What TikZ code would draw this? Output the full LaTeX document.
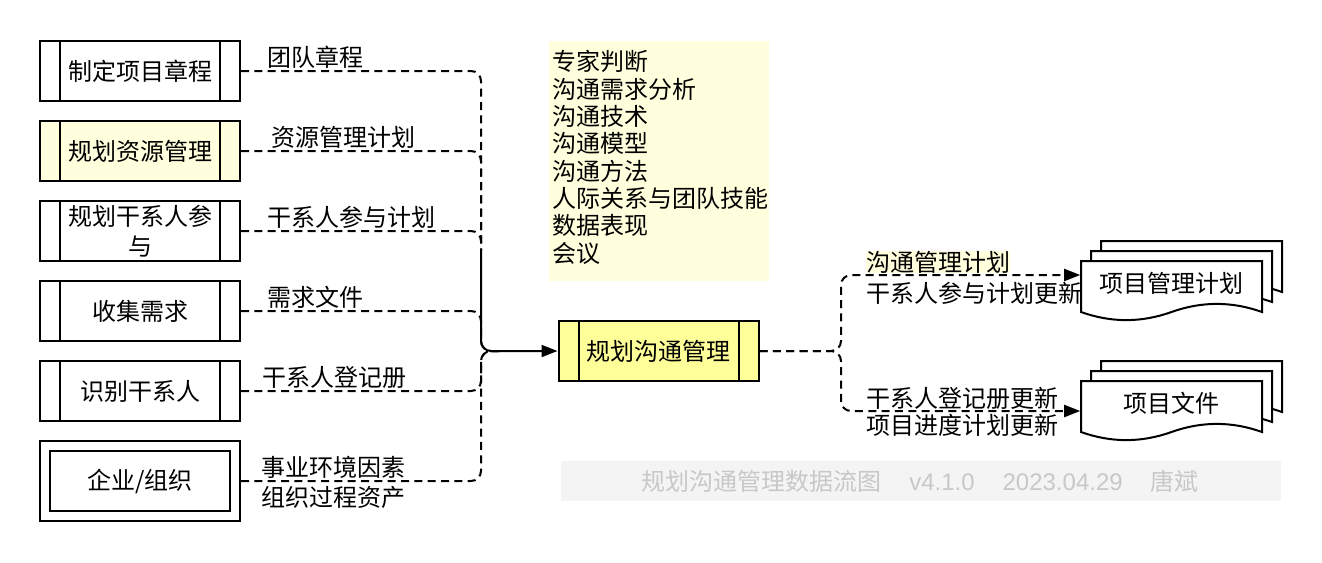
\documentclass[tikz,border=0pt]{standalone}
\usepackage{fontspec}
\setmainfont{Noto Sans CJK SC}
\newfontfamily\latfont{Liberation Sans}
\usetikzlibrary{arrows.meta}
\definecolor{paleyellow}{HTML}{FFFFDD}
\definecolor{procyellow}{HTML}{FFFF99}
\definecolor{footbg}{HTML}{F4F4F4}
\definecolor{foottext}{HTML}{C8C8C8}
\begin{document}
\begin{tikzpicture}[x=0.75pt,y=-0.75pt,
  every node/.style={font=\fontsize{18}{22.5}\selectfont, inner sep=0pt},
  box/.style={draw, line width=1.5pt, minimum width=150pt, minimum height=45pt, align=center},
  procbox/.style={box, path picture={
     \draw[line width=1.5pt] ([xshift=15pt]path picture bounding box.north west) -- ([xshift=15pt]path picture bounding box.south west);
     \draw[line width=1.5pt] ([xshift=-15pt]path picture bounding box.north east) -- ([xshift=-15pt]path picture bounding box.south east);}},
  extbox/.style={draw, line width=1.5pt, minimum width=150pt, minimum height=60pt, path picture={
     \draw[line width=1.5pt] ([shift={(7.5pt,-7.5pt)}]path picture bounding box.north west) rectangle ([shift={(-7.5pt,7.5pt)}]path picture bounding box.south east);}},
  flow/.style={line width=1.5pt, dash pattern=on 6pt off 4pt, rounded corners=7.5pt},
  lbl/.style={anchor=west},
  tip/.style={-{Triangle[length=12pt,width=9pt]}},
  docpage/.pic={\draw[line width=1.5pt, fill=white] (0,0) -- (181,0) -- (181,51) .. controls (150.83,40.2) and (120.67,40.2) .. (90.5,51) .. controls (60.33,61.8) and (30.17,61.8) .. (0,51) -- cycle;}
]
\useasboundingbox (0,0) rectangle (1322,562);

% input processes
\node[procbox] (b1) at (140,71) {制定项目章程};
\node[procbox, fill=paleyellow] (b2) at (140,151) {规划资源管理};
\node[procbox] (b3) at (140,231) {规划干系人参\\与};
\node[procbox] (b4) at (140,311) {收集需求};
\node[procbox] (b5) at (140,391) {识别干系人};
\node[extbox] (b6) at (140,481) {企业/组织};

% main process
\node[procbox, fill=procyellow] (p) at (658.5,351) {规划沟通管理};

% tools
\node[fill=paleyellow, minimum width=165pt, minimum height=180pt] (toolsbg) at (659,161) {};
\node[anchor=west, align=left, font=\fontsize{18}{20.5}\selectfont] (tools) at (552,157.5)
  {专家判断\\沟通需求分析\\沟通技术\\沟通模型\\沟通方法\\人际关系与团队技能\\数据表现\\会议};

% junctions
\coordinate (jt) at (481,250);
\coordinate (jm) at (481,351);
\coordinate (jr) at (500,351);
\coordinate (rs) at (841,351);

% left flows
\draw[flow] (b1.east) -| (jt);
\draw[flow] (b2.east) -| (jt);
\draw[flow] (b3.east) -| (jt);
\draw[flow] (b4.east) -| (jm) -- (jr);
\draw[flow] (b5.east) -| (jm) -- (jr);
\draw[flow] (b6.east) -| (jm) -- (jr);
\draw[line width=1.5pt, rounded corners=7.5pt, tip] (jt) -- (jm) -- (p.west);

% left labels
\node[lbl] (l1) at (267,57) {团队章程};
\node[lbl] (l2) at (271,137) {资源管理计划};
\node[lbl] (l3) at (267,217) {干系人参与计划};
\node[lbl] (l4) at (267,297) {需求文件};
\node[lbl] (l5) at (262,377) {干系人登记册};
\node[lbl, align=center] (l6) at (261,482) {事业环境因素\\组织过程资产};

% right labels
\node[lbl, fill=paleyellow] (l7) at (866,262) {沟通管理计划};
\node[lbl] (l8) at (866,293) {干系人参与计划更新};
\node[lbl] (l9) at (866,398) {干系人登记册更新};
\node[lbl] (l10) at (866,425) {项目进度计划更新};

% documents
\pic at (1101,241) {docpage};
\pic at (1091,251) {docpage};
\pic at (1081,261) {docpage};
\node[minimum width=136.5pt] (d1) at (1171.5,283) {项目管理计划};
\pic at (1101,361) {docpage};
\pic at (1091,371) {docpage};
\pic at (1081,381) {docpage};
\node[minimum width=136.5pt] (d2) at (1171.5,403) {项目文件};

% right flows
\draw[flow, tip] (p.east) -- (rs) |- ([yshift=6pt]d1.west);
\draw[flow, tip] (p.east) -- (rs) |- ([yshift=-6pt]d2.west);

% footer
\node[fill=footbg, minimum width=540pt, minimum height=30pt] (footbg) at (921,481) {};
\node[text=foottext] (foot) at (920,481) {规划沟通管理数据流图\hspace{21pt}{\latfont v4.1.0\hspace{21pt}2023.04.29}\hspace{21pt}唐斌};
\end{tikzpicture}
\end{document}
